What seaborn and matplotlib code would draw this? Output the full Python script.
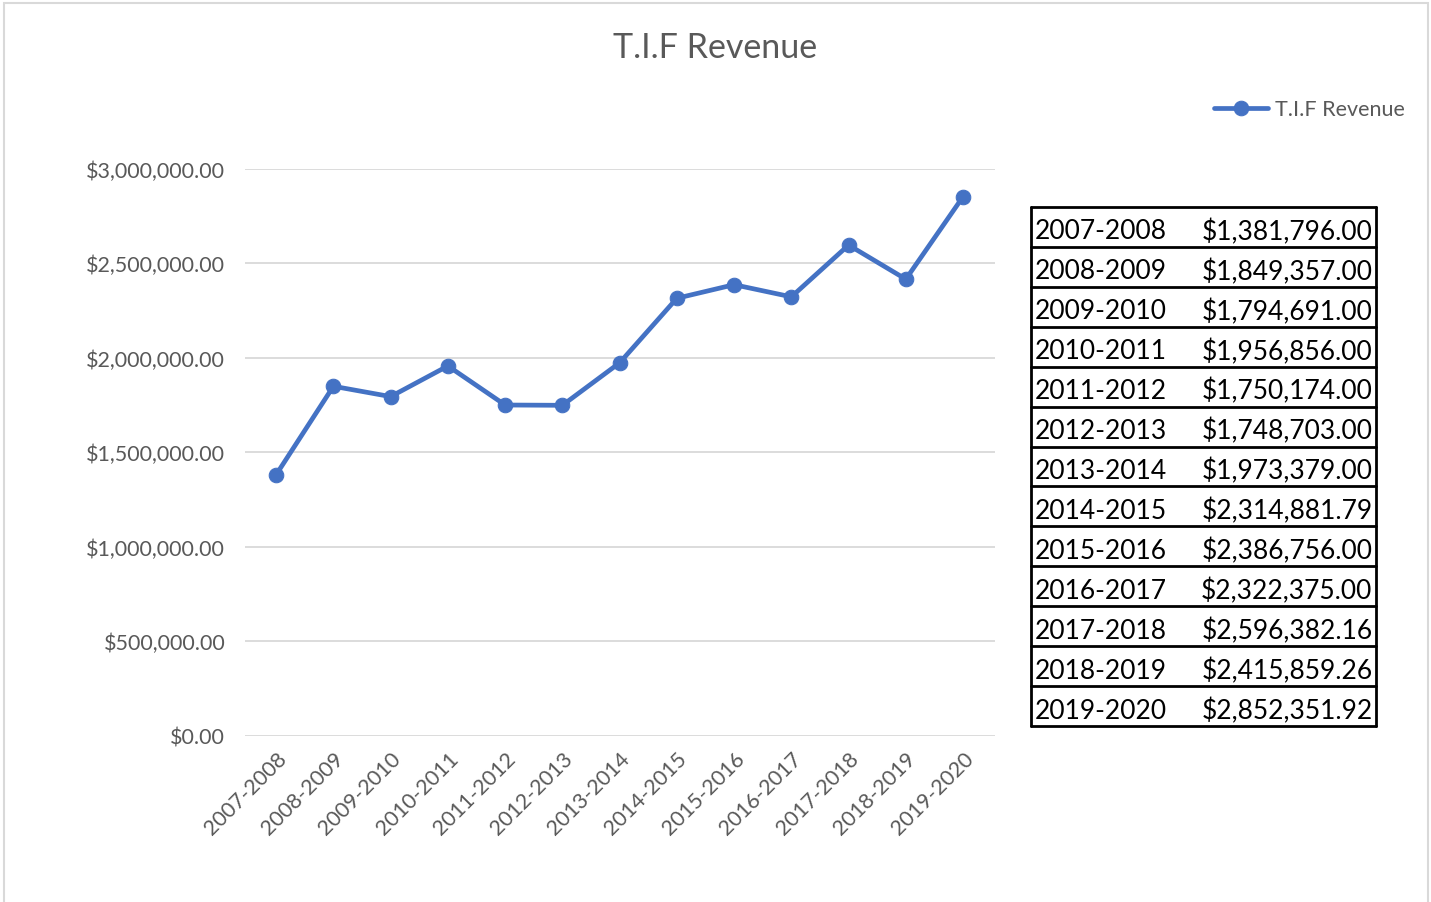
import numpy as np
import matplotlib
matplotlib.use("Agg")
import matplotlib.pyplot as plt
import matplotlib.patches as mpatches
from matplotlib.ticker import FuncFormatter
import pandas as pd
import seaborn as sns

years = ["2007-2008", "2008-2009", "2009-2010", "2010-2011", "2011-2012",
         "2012-2013", "2013-2014", "2014-2015", "2015-2016", "2016-2017",
         "2017-2018", "2018-2019", "2019-2020"]
revenue = [1381796.00, 1849357.00, 1794691.00, 1956856.00, 1750174.00,
           1748703.00, 1973379.00, 2314881.79, 2386756.00, 2322375.00,
           2596382.16, 2415859.26, 2852351.92]

df = pd.DataFrame({"year": years, "revenue": revenue})

sns.set_theme(style="white")
plt.rcParams['font.family'] = ['Lato', 'DejaVu Sans']

blue = "#4472C4"
grey_txt = "#595959"

fig = plt.figure(figsize=(14.31, 9.03), dpi=100)
ax = fig.add_axes([0.171, 0.184, 0.524, 0.628])

sns.lineplot(data=df, x="year", y="revenue", ax=ax, color=blue, lw=3.4,
             marker="o", markersize=10.5, markeredgecolor=blue, sort=False,
             label="T.I.F Revenue")

ax.set_ylim(0, 3000000)
ax.set_xlim(-0.55, len(years) - 0.45)
ax.set_yticks(np.arange(0, 3000001, 500000))
ax.yaxis.set_major_formatter(FuncFormatter(lambda v, p: f"${v:,.2f}"))
ax.grid(axis="y", color="#d9d9d9", lw=1.3)
for s in ax.spines.values():
    s.set_visible(False)
ax.tick_params(axis="y", length=0, pad=14, labelsize=15.5, labelcolor=grey_txt)
ax.tick_params(axis="x", length=0, pad=9, labelsize=15.5, labelcolor=grey_txt)
plt.setp(ax.get_xticklabels(), rotation=45, ha="right", rotation_mode="anchor")
ax.set_xlabel("")
ax.set_ylabel("")

ax.legend(loc="center left", bbox_to_anchor=(0.835, 0.878), bbox_transform=fig.transFigure,
          frameon=False, fontsize=15.5, labelcolor=grey_txt, handlelength=2.5,
          handletextpad=0.3)

fig.text(0.5, 0.947, "T.I.F Revenue", ha="center", va="center", fontsize=24.5, color=grey_txt)

# data table on the right
n = len(years)
tax = fig.add_axes([1031 / 1431, 1 - 727 / 903, 345 / 1431, 519 / 903])
tax.axis("off")
tax.set_xlim(0, 1)
tax.set_ylim(0, 1)
dy = -4 / 519
for i, (y, v) in enumerate(zip(years, revenue)):
    yc = 1 - (i + 0.5) / n + dy
    tax.text(0.01, yc, y, ha="left", va="center", fontsize=19, color="black")
    tax.text(0.99, yc, f"${v:,.2f}", ha="right", va="center", fontsize=19, color="black")
for i in range(n + 1):
    tax.plot([0, 1], [i / n] * 2, color="black", lw=2, clip_on=False)
tax.plot([0, 0], [0, 1], color="black", lw=2, clip_on=False)
tax.plot([1, 1], [0, 1], color="black", lw=2, clip_on=False)

# chart area border
fig.patches.append(mpatches.Rectangle((4 / 1431, -0.05), 1424 / 1431, 1.05 - 4 / 903,
                                      transform=fig.transFigure, fill=False,
                                      edgecolor="#d9d9d9", lw=1.5))

fig.savefig("out.png", dpi=100)
